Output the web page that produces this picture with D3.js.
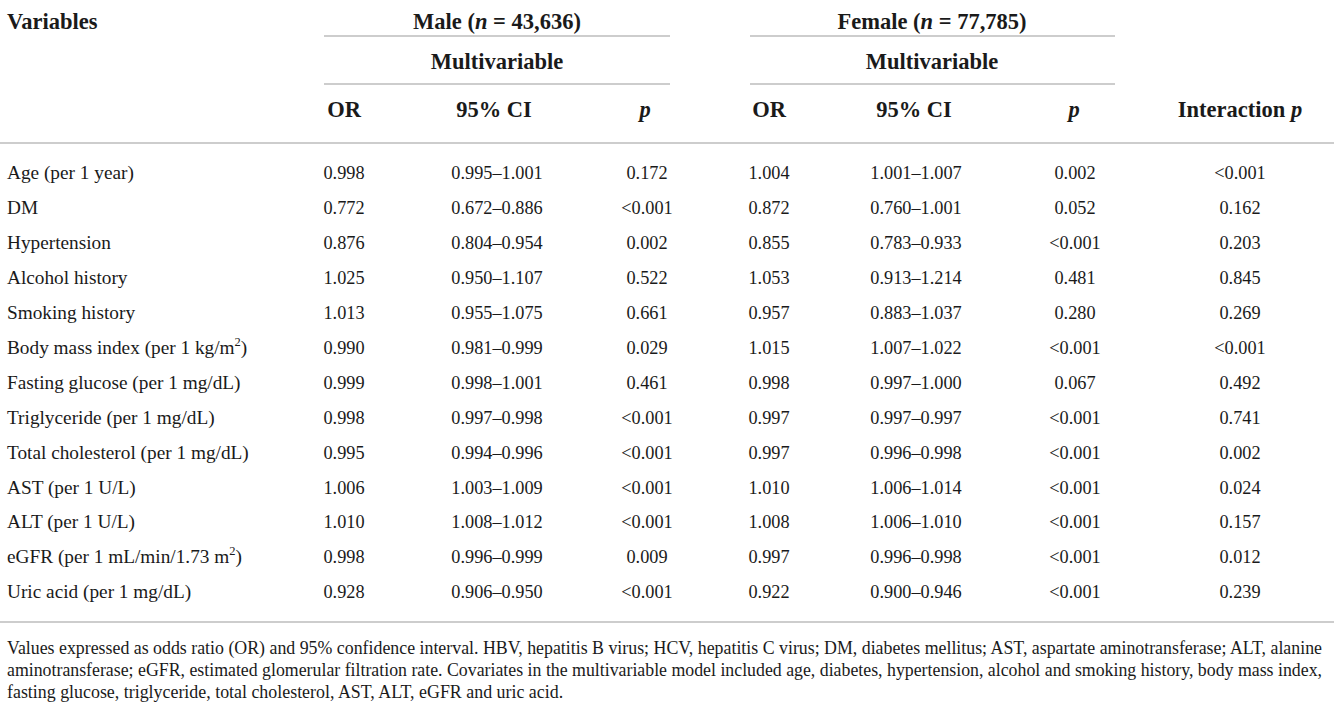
<!DOCTYPE html>
<html>
<head>
<meta charset="utf-8">
<script src="https://cdn.jsdelivr.net/npm/d3@7"></script>
<style>
  html, body { margin: 0; padding: 0; background: #fff; }
  svg { display: block; }
  text { font-family: "Liberation Serif", "Times New Roman", serif; fill: #1a1a1a; }
</style>
</head>
<body>
<svg id="chart" width="1334" height="708"></svg>
<script>
// ---- data ----
const variables = [
  "Age (per 1 year)", "DM", "Hypertension", "Alcohol history", "Smoking history",
  "Body mass index (per 1 kg/m^2)", "Fasting glucose (per 1 mg/dL)", "Triglyceride (per 1 mg/dL)",
  "Total cholesterol (per 1 mg/dL)", "AST (per 1 U/L)", "ALT (per 1 U/L)",
  "eGFR (per 1 mL/min/1.73 m^2)", "Uric acid (per 1 mg/dL)"
];
const maleOR = ["0.998","0.772","0.876","1.025","1.013","0.990","0.999","0.998","0.995","1.006","1.010","0.998","0.928"];
const maleCI = ["0.995–1.001","0.672–0.886","0.804–0.954","0.950–1.107","0.955–1.075","0.981–0.999","0.998–1.001","0.997–0.998","0.994–0.996","1.003–1.009","1.008–1.012","0.996–0.999","0.906–0.950"];
const maleP = ["0.172","<0.001","0.002","0.522","0.661","0.029","0.461","<0.001","<0.001","<0.001","<0.001","0.009","<0.001"];
const femaleOR = ["1.004","0.872","0.855","1.053","0.957","1.015","0.998","0.997","0.997","1.010","1.008","0.997","0.922"];
const femaleCI = ["1.001–1.007","0.760–1.001","0.783–0.933","0.913–1.214","0.883–1.037","1.007–1.022","0.997–1.000","0.997–0.997","0.996–0.998","1.006–1.014","1.006–1.010","0.996–0.998","0.900–0.946"];
const femaleP = ["0.002","0.052","<0.001","0.481","0.280","<0.001","0.067","<0.001","<0.001","<0.001","<0.001","<0.001","<0.001"];
const interactionP = ["<0.001","0.162","0.203","0.845","0.269","<0.001","0.492","0.741","0.002","0.024","0.157","0.012","0.239"];
const groupLabels = [["Male (", "n", " = 43,636)"], ["Female (", "n", " = 77,785)"]];
const subHeader = "Multivariable";
const columnKeys = ["mOR","mCI","mP","fOR","fCI","fP","iP"];
const columnHeads = ["OR","95% CI","p","OR","95% CI","p","Interaction p"];
const footnote = [
  "Values expressed as odds ratio (OR) and 95% confidence interval. HBV, hepatitis B virus; HCV, hepatitis C virus; DM, diabetes mellitus; AST, aspartate aminotransferase; ALT, alanine",
  "aminotransferase; eGFR, estimated glomerular filtration rate. Covariates in the multivariable model included age, diabetes, hypertension, alcohol and smoking history, body mass index,",
  "fasting glucose, triglyceride, total cholesterol, AST, ALT, eGFR and uric acid."
];

// ---- layout ----
const svg = d3.select("#chart");
const W = 1334;
const colX = d3.scaleOrdinal().domain(columnKeys).range([344, 497, 647, 769, 916, 1075, 1240]);
const headX = d3.scaleOrdinal().domain(columnKeys).range([344, 494, 645, 769, 914, 1074, 1240]);
const groupX = d3.scaleOrdinal().domain([0, 1]).range([497, 932]);
const groupSpan = [[324, 670], [750, 1115]];
const y = d3.scaleBand().domain(variables).range([154.5, 608.5]);
const colData = { mOR: maleOR, mCI: maleCI, mP: maleP, fOR: femaleOR, fCI: femaleCI, fP: femaleP, iP: interactionP };
const lineColor = "#bdbdbd";

// rules
const fullRules = [143, 622];
svg.selectAll("line.full").data(fullRules).join("line")
  .attr("x1", 0).attr("x2", W).attr("y1", d => d).attr("y2", d => d)
  .attr("stroke", lineColor).attr("stroke-width", 1.6);
[36, 84].forEach(yy => {
  svg.append("g").selectAll("line").data(groupSpan).join("line")
    .attr("x1", d => d[0]).attr("x2", d => d[1]).attr("y1", yy).attr("y2", yy)
    .attr("stroke", lineColor).attr("stroke-width", 1.6);
});

// header
const hdrSize = 22.5;
const hdrY = [29, 69, 117];
svg.append("text").attr("x", 7).attr("y", hdrY[0]).attr("font-size", hdrSize).attr("font-weight", "bold").text("Variables");
groupLabels.forEach((parts, i) => {
  const t = svg.append("text").attr("x", groupX(i)).attr("y", hdrY[0]).attr("text-anchor", "middle")
    .attr("font-size", hdrSize).attr("font-weight", "bold");
  t.append("tspan").text(parts[0]);
  t.append("tspan").attr("font-style", "italic").text(parts[1]);
  t.append("tspan").text(parts[2]);
  svg.append("text").attr("x", groupX(i)).attr("y", hdrY[1]).attr("text-anchor", "middle")
    .attr("font-size", hdrSize).attr("font-weight", "bold").text(subHeader);
});
columnKeys.forEach((k, i) => {
  const t = svg.append("text").attr("x", headX(k)).attr("y", hdrY[2]).attr("text-anchor", "middle")
    .attr("font-size", hdrSize).attr("font-weight", "bold");
  const h = columnHeads[i];
  if (h === "p") {
    t.append("tspan").attr("font-style", "italic").text("p");
  } else if (h.endsWith(" p")) {
    t.append("tspan").text(h.slice(0, -1));
    t.append("tspan").attr("font-style", "italic").text("p");
  } else {
    t.text(h);
  }
});

// body
const labelSize = 19.3;
const numSize = 18.3;
const rowBase = v => y(v) + y.bandwidth() / 2 + 7.3;
const rows = svg.append("g");
variables.forEach(v => {
  const t = rows.append("text").attr("x", 7).attr("y", rowBase(v)).attr("font-size", labelSize);
  const m = v.split("^");
  if (m.length === 2) {
    t.append("tspan").text(m[0]);
    t.append("tspan").attr("font-size", 12.5).attr("dy", -8).text(m[1].charAt(0));
    t.append("tspan").attr("dy", 8).text(m[1].slice(1));
  } else {
    t.text(v);
  }
});
columnKeys.forEach(k => {
  rows.append("g").selectAll("text").data(colData[k]).join("text")
    .attr("x", colX(k))
    .attr("y", (d, i) => rowBase(variables[i]))
    .attr("text-anchor", "middle").attr("font-size", numSize)
    .text(d => d);
});

// footnote
const footSize = 17.9;
const footY = [654, 676, 698];
footnote.forEach((line, i) => {
  const t = svg.append("text").attr("x", 7).attr("y", footY[i]).attr("font-size", footSize).text(line);
  if (i < 2) t.attr("textLength", 1315).attr("lengthAdjust", "spacingAndGlyphs");
});
</script>
</body>
</html>
